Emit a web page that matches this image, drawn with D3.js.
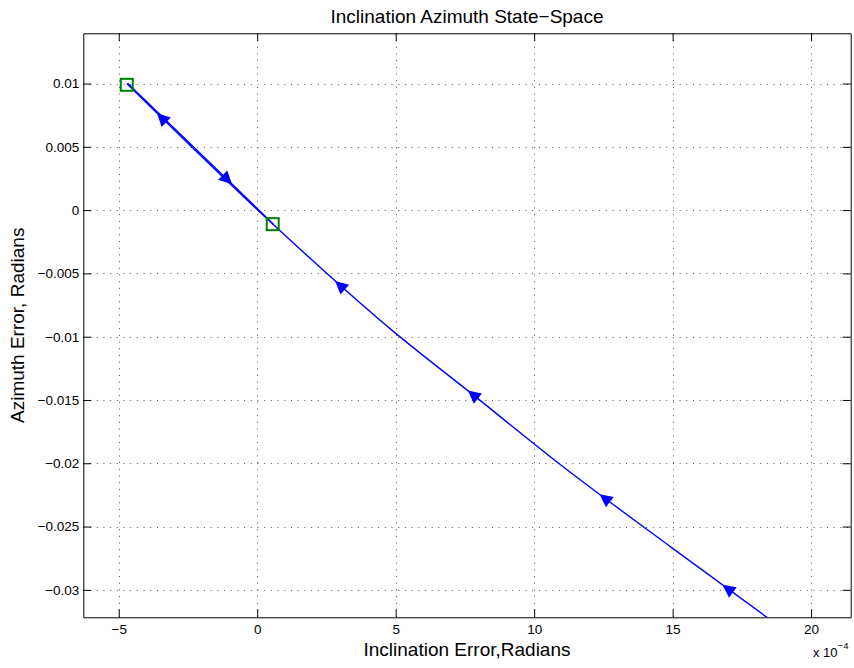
<!DOCTYPE html>
<html>
<head>
<meta charset="utf-8">
<script src="https://cdn.jsdelivr.net/npm/d3@7"></script>
<style>
  body { margin: 0; background: #fff; }
  svg { display: block; font-family: "Liberation Sans", Arial, sans-serif; }
</style>
</head>
<body>
<script>
const width = 854;
const height = 668;

// axis ticks
const xTicks = [-5, 0, 5, 10, 15, 20];
const xTickLabels = ["\u22125", "0", "5", "10", "15", "20"];
const yTicks = [0.01, 0.005, 0, -0.005, -0.01, -0.015, -0.02, -0.025, -0.03];
const yTickLabels = ["0.01", "0.005", "0", "\u22120.005", "\u22120.01", "\u22120.015", "\u22120.02", "\u22120.025", "\u22120.03"];

// trajectory coming back up-left (x in 1e-4 rad)
const backX = [18.42, 14.99, 10.94, 7.80, 4.98, 0.56, -4.71];
const backY = [-0.0322, -0.0267, -0.0201, -0.0146, -0.0097, -0.0011, 0.0100];
// trajectory going down-right from the first start point
const outX = [-4.67, 0.58];
const outY = [0.0100, -0.0011];

// start points (green squares)
const startX = [-4.71, 0.56];
const startY = [0.0099, -0.00111];

// arrows: x position, which line, direction (+1 down-right, -1 up-left)
const arrowX = [-3.44, -1.09, 3.0, 7.80, 12.56, 17.0];
const arrowLine = ["back", "out", "back", "back", "back", "back"];
const arrowDir = [-1, 1, -1, -1, -1, -1];

const margin = { left: 83.3, right: 854 - 850.7, top: 33.3, bottom: 668 - 617.3 };

const svg = d3.select("body")
  .append("svg")
  .attr("width", width)
  .attr("height", height)
  .style("background-color", "#fff");

const x = d3.scaleLinear().domain([-6.28, 21.43]).range([margin.left, width - margin.right]);
const y = d3.scaleLinear().domain([-0.03217, 0.01397]).range([height - margin.bottom, margin.top]);

const x0 = x.range()[0], x1 = x.range()[1];
const y0 = y.range()[1], y1 = y.range()[0];

// grid
const grid = svg.append("g")
  .attr("stroke", "#555")
  .attr("stroke-width", 1)
  .attr("stroke-dasharray", "1,5.7");
grid.selectAll(".gx").data(xTicks).enter().append("line")
  .attr("x1", d => Math.round(x(d)) + 0.5).attr("x2", d => Math.round(x(d)) + 0.5)
  .attr("y1", y0).attr("y2", y1);
grid.selectAll(".gy").data(yTicks).enter().append("line")
  .attr("y1", d => Math.round(y(d)) + 0.5).attr("y2", d => Math.round(y(d)) + 0.5)
  .attr("x1", x0).attr("x2", x1);

// clip for the data
svg.append("clipPath").attr("id", "clip")
  .append("rect").attr("x", x0).attr("y", y0).attr("width", x1 - x0).attr("height", y1 - y0);

const plot = svg.append("g").attr("clip-path", "url(#clip)");

const line = d3.line().x(d => x(d[0])).y(d => y(d[1])).curve(d3.curveMonotoneX);
const backPts = backX.map((d, i) => [d, backY[i]]).sort((a, b) => a[0] - b[0]);
const outPts = outX.map((d, i) => [d, outY[i]]);

plot.append("path").datum(backPts)
  .attr("d", line).attr("fill", "none").attr("stroke", "#0000ff").attr("stroke-width", 1.4);
plot.append("path").datum(outPts)
  .attr("d", line).attr("fill", "none").attr("stroke", "#0000ff").attr("stroke-width", 1.4);

// arrow heads placed on the lines (read back from the drawn path)
function onLine(pathNode, xv) {
  const len = pathNode.getTotalLength();
  const px = x(xv);
  let lo = 0, hi = len;
  for (let k = 0; k < 40; k++) {
    const mid = (lo + hi) / 2;
    if (pathNode.getPointAtLength(mid).x < px) lo = mid; else hi = mid;
  }
  const p = pathNode.getPointAtLength(lo);
  const q = pathNode.getPointAtLength(Math.min(len, lo + 2));
  const r = pathNode.getPointAtLength(Math.max(0, lo - 2));
  return [p.x, p.y, Math.atan2(q.y - r.y, q.x - r.x)];
}

const paths = plot.selectAll("path").nodes();
const arrows = arrowX.map((d, i) => {
  const p = onLine(arrowLine[i] === "back" ? paths[0] : paths[1], d);
  return { px: p[0], py: p[1], ang: p[2] + (arrowDir[i] < 0 ? Math.PI : 0) };
});

plot.selectAll(".arrow").data(arrows).enter().append("path")
  .attr("class", "arrow")
  .attr("d", "M7,0 L-6,-6.5 L-6,6.5 Z")
  .attr("fill", "#0000ff")
  .attr("transform", d => `translate(${d.px},${d.py}) rotate(${d.ang * 180 / Math.PI})`);

// start squares
svg.selectAll(".start").data(startX).enter().append("rect")
  .attr("x", (d, i) => x(d) - 6)
  .attr("y", (d, i) => y(startY[i]) - 6)
  .attr("width", 12).attr("height", 12)
  .attr("fill", "none").attr("stroke", "#008000").attr("stroke-width", 2);

// axes (ticks inside, box on all sides)
const fs = "13.5px";
const axBottom = svg.append("g").attr("transform", `translate(0,${y1})`)
  .call(d3.axisBottom(x).tickValues(xTicks).tickSizeInner(-8).tickSizeOuter(0).tickPadding(7.6)
    .tickFormat((d, i) => xTickLabels[i]));
const axLeft = svg.append("g").attr("transform", `translate(${x0},0)`)
  .call(d3.axisLeft(y).tickValues(yTicks).tickSizeInner(-8).tickSizeOuter(0).tickPadding(4)
    .tickFormat((d, i) => yTickLabels[i]));
const axTop = svg.append("g").attr("transform", `translate(0,${y0})`)
  .call(d3.axisTop(x).tickValues(xTicks).tickSizeInner(-8).tickSizeOuter(0).tickFormat(""));
const axRight = svg.append("g").attr("transform", `translate(${x1},0)`)
  .call(d3.axisRight(y).tickValues(yTicks).tickSizeInner(-8).tickSizeOuter(0).tickFormat(""));

[axBottom, axLeft, axTop, axRight].forEach(g => {
  g.attr("font-family", null).attr("font-size", null);
  g.selectAll("path, line").attr("stroke", "#000").attr("stroke-width", 1);
  g.selectAll("text").attr("fill", "#000").style("font-size", fs);
});

// titles
svg.append("text")
  .attr("x", (x0 + x1) / 2).attr("y", 23)
  .attr("text-anchor", "middle").style("font-size", "19px")
  .text("Inclination Azimuth State\u2212Space");

svg.append("text")
  .attr("x", (x0 + x1) / 2).attr("y", 655.7)
  .attr("text-anchor", "middle").style("font-size", "19px")
  .text("Inclination Error,Radians");

svg.append("text")
  .attr("transform", `translate(24,${(y0 + y1) / 2}) rotate(-90)`)
  .attr("text-anchor", "middle").style("font-size", "19px")
  .text("Azimuth Error, Radians");

// exponent note
const expo = svg.append("text").attr("x", 813).attr("y", 657).style("font-size", "13px");
expo.append("tspan").text("x 10");
expo.append("tspan").attr("dy", -8).style("font-size", "9.5px").text("\u22124");
</script>
</body>
</html>
